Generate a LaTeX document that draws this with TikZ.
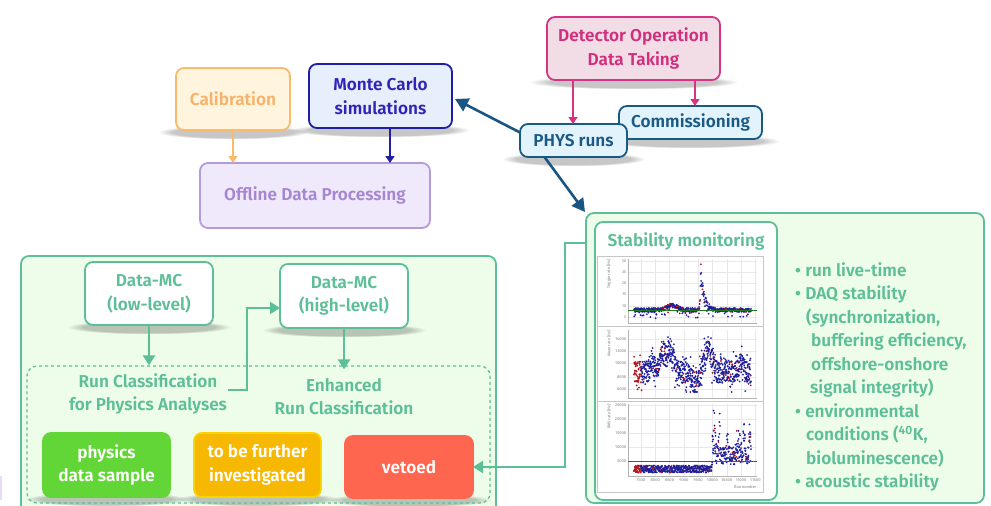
\documentclass[tikz,border=0pt]{standalone}
\usepackage{fontspec}
\setmainfont{Fira Sans}[UprightFont={* SemiBold}, BoldFont={* Bold}]
\usetikzlibrary{arrows.meta,fadings}
\definecolor{calfill}{HTML}{FFF4DE}
\definecolor{caldraw}{HTML}{F9BA6C}
\definecolor{caltext}{HTML}{F7B267}
\definecolor{mcfill}{HTML}{E7EFFD}
\definecolor{mcdraw}{HTML}{1F1FA3}
\definecolor{mctext}{HTML}{2F24B5}
\definecolor{odpfill}{HTML}{EFE9FB}
\definecolor{odpdraw}{HTML}{B69BDB}
\definecolor{odptext}{HTML}{A786D1}
\definecolor{detfill}{HTML}{F2DDE6}
\definecolor{detdraw}{HTML}{D63384}
\definecolor{dettext}{HTML}{D12F7E}
\definecolor{blfill}{HTML}{E3F3FC}
\definecolor{bldraw}{HTML}{195A84}
\definecolor{bltext}{HTML}{1C5A86}
\definecolor{darrow}{HTML}{1B5682}
\definecolor{grn}{HTML}{5CBF97}
\definecolor{gfill}{HTML}{EEFCEA}
\definecolor{physfill}{HTML}{63D637}
\definecolor{furtherfill}{HTML}{F6B800}
\definecolor{vetofill}{HTML}{FF6650}
\definecolor{pblue}{HTML}{1E1E9C}
\definecolor{pred}{HTML}{B3141A}
\definecolor{pgreen}{HTML}{1E7A1E}
\definecolor{edgepurple}{HTML}{E6DCF8}
\newcommand{\bfs}{\fontsize{17.2}{23.5}\selectfont}
\pgfmathdeclarefunction{gau}{3}{\pgfmathparse{exp(-min(((#1-#2)/#3)*((#1-#2)/#3),30))}}
\pgfdeclarelayer{back}
\pgfdeclarelayer{shd}
\pgfsetlayers{back,shd,main}
\tikzset{
 box/.style={draw, rounded corners=8pt, line width=1.8pt, align=center, inner sep=0pt, outer sep=0pt, font=\bfs},
 arr/.style={line width=1.5pt, -{Triangle[length=7pt,width=9pt]}},
 darr/.style={draw=darrow, line width=2.6pt, -{Triangle[length=13pt,width=14pt]}},
 garr/.style={draw=grn, line width=2.4pt, -{Triangle[length=10pt,width=12pt]}},
 plotframe/.style={draw=gray!45, line width=1pt},
 gridl/.style={draw=gray!18, line width=0.4pt},
 axl/.style={draw=gray!60, line width=0.4pt},
 tick/.style={font=\fontsize{4}{4.5}\selectfont, text=gray!70, inner sep=0.5pt},
 txt/.style={align=center, font=\bfs, text=grn, inner sep=1pt},
 bul/.style={anchor=base west, text=grn, font=\bfs, inner sep=0pt},
 softshadow/.style={fill=black, opacity=0.22, path fading=circle with fuzzy edge 20 percent},
}
\newcommand{\plotdot}[1]{\ifnum\rd=1 \fill[pred] #1 circle (1pt); \else \fill[pblue] #1 circle (1pt); \fi}
\begin{document}
\begin{tikzpicture}[x=1pt,y=-1pt]
\useasboundingbox (0,0) rectangle (991,506);
\fill[edgepurple] (0,476) rectangle (2,500);

% top part
\node[box, fill=calfill, draw=caldraw, text=caltext, minimum width=114pt, minimum height=62pt] (cal) at (233,99) {Calibration};
\node[box, fill=mcfill, draw=mcdraw, text=mctext, minimum width=143pt, minimum height=64pt] (mc) at (380.5,96) {Monte Carlo\\simulations};
\node[box, fill=odpfill, draw=odpdraw, text=odptext, minimum width=230pt, minimum height=65pt] (odp) at (315,195.5) {Offline Data Processing};
\node[box, fill=detfill, draw=detdraw, text=dettext, minimum width=173pt, minimum height=63pt] (det) at (633.5,48.5) {Detector Operation\\Data Taking};
\node[box, fill=blfill, draw=bldraw, text=bltext, minimum width=143pt, minimum height=33pt] (comm) at (690.5,122.5) {Commissioning};
\node[box, fill=blfill, draw=bldraw, text=bltext, minimum width=107pt, minimum height=33pt] (phys) at (573.5,140.5) {PHYS runs};

\draw[arr, draw=caldraw, fill=caldraw] (cal.south) -- (cal.south |- odp.north);
\draw[arr, draw=mcdraw, fill=mcdraw] (390,0 |- mc.south) -- (390,0 |- odp.north);
\draw[arr, draw=detdraw, fill=detdraw] (573,0 |- det.south) -- (573,0 |- phys.north);
\draw[arr, draw=detdraw, fill=detdraw] (695,0 |- det.south) -- (695,0 |- comm.north);

% right green box
\begin{pgfonlayer}{back}
\node[box, fill=gfill, draw=grn, minimum width=398pt, minimum height=290pt] (bigR) at (785,358) {};
\end{pgfonlayer}
\node[box, fill=white, draw=grn, minimum width=182pt, minimum height=278pt] (stab) at (686,361) {};
\node[txt] (stabt) at (686,241) {Stability monitoring};

\draw[darr] ([yshift=8pt]phys.west) -- ([xshift=3pt,yshift=-3pt]mc.east);
\draw[darr] ([xshift=-29pt]phys.south) -- ([xshift=-1pt,yshift=1pt]bigR.north west);

% plots
\draw[plotframe] (597,256) rectangle (763,492);
\draw[plotframe] (597,326) -- (763,326);
\draw[plotframe] (597,401) -- (763,401);
\foreach \k in {0,...,8}{
  \pgfmathsetmacro{\gx}{641+14.3*\k}
  \draw[gridl] (\gx,259) -- (\gx,323);
  \draw[gridl] (\gx,330) -- (\gx,398);
  \draw[gridl] (\gx,404) -- (\gx,476);
}
\foreach \gy/\lab in {261/30,272/25,283/20,294/15,306/10,317/5}{
  \draw[gridl] (628,\gy) -- (757,\gy);
  \node[tick, anchor=east] at (627,\gy) {\lab};
}
\foreach \gy/\lab in {339/14000,351/12000,363/10000,377/8000,389/6000}{
  \draw[gridl] (628,\gy) -- (757,\gy);
  \node[tick, anchor=east] at (627,\gy) {\lab};
}
\foreach \gy/\lab in {405/25000,419/20000,433/15000,447/10000,461/5000}{
  \draw[gridl] (628,\gy) -- (757,\gy);
  \node[tick, anchor=east] at (627,\gy) {\lab};
}
\draw[axl] (628,259) -- (628,323) -- (757,323);
\draw[axl] (628,330) -- (628,398) -- (757,398);
\draw[axl] (628,404) -- (628,476) -- (757,476);
\foreach \k/\lab in {0/7500,1/8000,2/8500,3/9000,4/9500,5/10000,6/10500,7/11000,8/11500}{
  \node[tick] at (641+14.3*\k,480.5) {\lab};
}
\node[tick, anchor=east] at (757,487.5) {Run number};
\node[tick, rotate=90, anchor=east] at (609,259) {Trigger rate [Hz]};
\node[tick, rotate=90, anchor=east] at (609,330) {Mean rate [Hz]};
\node[tick, rotate=90, anchor=east] at (609,404) {RMS rate [Hz]};

\pgfmathsetseed{12345}
% panel 1
\foreach \i in {0,...,499}{
  \pgfmathsetmacro{\xx}{634+\i*0.23447}
  \pgfmathsetmacro{\sp}{48*((\xx<701)*gau(\xx,701,1.0) + (\xx>=701)*exp(-max(\xx-701,0)/3.5))}
  \pgfmathsetmacro{\bu}{5*gau(\xx,672,7)}
  \pgfmathsetmacro{\yy}{310 - \sp*(0.45+0.55*rnd) - \bu + 2*rand + (rnd<0.12)*7*rnd}
  \pgfmathtruncatemacro{\rd}{rnd<0.12}
  \plotdot{(\xx,\yy)}
}
\draw[pgreen, line width=0.9pt] (628,310) -- (757,310);
% panel 2
\foreach \i in {0,...,899}{
  \pgfmathsetmacro{\xx}{634+\i*0.13004}
  \pgfmathsetmacro{\cc}{372 - 8*gau(\xx,652,3) - 20*gau(\xx,663,5) - 20*gau(\xx,671,3.5) + 10*gau(\xx,695,6) - 22*gau(\xx,708,5) - 8*gau(\xx,741,3)}
  \pgfmathsetmacro{\yy}{min(392,max(337,\cc + 11*rand + (rnd<0.35)*13*rand))}
  \pgfmathtruncatemacro{\rd}{(\xx<641) || (rnd<0.07)}
  \plotdot{(\xx,\yy)}
}
% panel 3
\foreach \i in {0,...,699}{
  \pgfmathsetmacro{\xx}{634+\i*0.16738}
  \pgfmathsetmacro{\base}{(\xx<712)*469 + (\xx>=712)*456}
  \pgfmathsetmacro{\spk}{50*gau(\xx,714,1.5) + 45*gau(\xx,719.5,1) + 18*gau(\xx,727,2) + 22*gau(\xx,738,3) + 35*gau(\xx,744,1.2) + 30*gau(\xx,750,1.5)}
  \pgfmathsetmacro{\yy}{\base - \spk*rnd + (\xx<712)*3.5*rand + (\xx>=712)*9*rand}
  \pgfmathtruncatemacro{\rd}{(\xx<641) || (rnd<0.08)}
  \plotdot{(\xx,\yy)}
}
\draw[pgreen, line width=0.9pt] (628,461) -- (757,461);

% bullets
\node[bul] (b1) at (795,276) {\textbullet\ run live-time};
\node[bul] (b2) at (795,299.5) {\textbullet\ DAQ stability};
\node[bul] (b3) at (806,323) {(synchronization,};
\node[bul] (b4) at (811,346.5) {buffering efficiency,};
\node[bul] (b5) at (811,370) {offshore-onshore};
\node[bul] (b6) at (810,393.5) {signal integrity)};
\node[bul] (b7) at (795,417) {\textbullet\ environmental};
\node[bul] (b8) at (806,440.5) {conditions (\textsuperscript{40}K,};
\node[bul] (b9) at (806,464) {bioluminescence)};
\node[bul] (b10) at (795,487.5) {\textbullet\ acoustic stability};

% left green box
\begin{pgfonlayer}{back}
\begin{scope}
\clip (0,0) rectangle (991,506);
\node[box, fill=gfill, draw=grn, minimum width=475pt, minimum height=258pt] (bigL) at (258.5,385) {};
\end{scope}
\end{pgfonlayer}
\node[box, fill=white, draw=grn, text=grn, minimum width=128pt, minimum height=63pt] (dmlow) at (149,293.5) {Data-MC\\(low-level)};
\node[box, fill=white, draw=grn, text=grn, minimum width=128pt, minimum height=64pt] (dmhigh) at (344,296) {Data-MC\\(high-level)};
\node[draw=grn, line width=1.3pt, dash pattern=on 3pt off 3pt, rounded corners=10pt, minimum width=463pt, minimum height=137pt, inner sep=0pt] (dotted) at (258.5,434.5) {};
\node[txt] (runclass) at (148,394) {Run Classification\\for Physics Analyses};
\node[txt] (enh) at (344,396.5) {Enhanced\\Run Classification};
\node[box, fill=physfill, draw=physfill, text=white, minimum width=127pt, minimum height=64pt] (physs) at (106.5,465) {physics\\data sample};
\node[box, fill=furtherfill, draw=furtherfill!60!yellow, text=white, minimum width=127pt, minimum height=64pt] (further) at (257.5,465) {to be further\\investigated};
\node[box, fill=vetofill, draw=vetofill, text=white, minimum width=128pt, minimum height=62pt] (veto) at (409,467) {vetoed};

\draw[garr] (dmlow.south) -- (dmlow.south |- dotted.north);
\draw[garr] (dmhigh.south) -- ([yshift=-4pt]dmhigh.south |- dotted.north);
\coordinate (elb) at (247,308);
\draw[garr] ([yshift=4pt]runclass.east) -| (elb) -- (elb -| dmhigh.west);
\coordinate (sv) at (565,243);
\draw[garr] (bigR.west |- sv) -- (sv) |- (veto.east);

% soft shadows
\begin{pgfonlayer}{shd}
\foreach \n in {cal,mc,det,comm,phys,dmlow,dmhigh,physs,further,veto}{
  \fill[softshadow] ([xshift=-18pt,yshift=5pt]\n.south west) rectangle ([xshift=18pt,yshift=-9pt]\n.south east);
}
\end{pgfonlayer}
\end{tikzpicture}
\end{document}
